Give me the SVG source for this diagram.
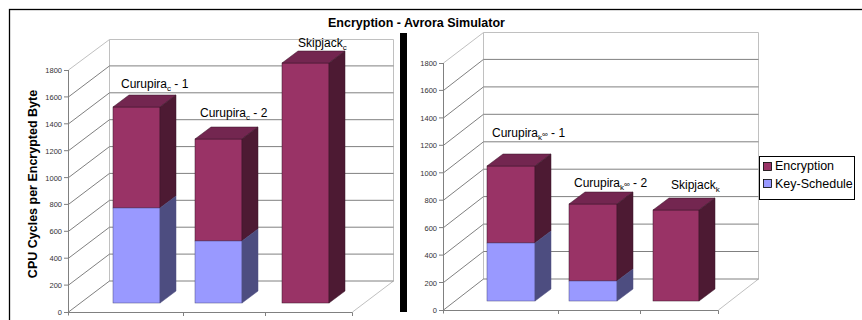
<svg xmlns="http://www.w3.org/2000/svg" width="862" height="320" viewBox="0 0 862 320">
<style>
text{font-family:"Liberation Sans",Arial,sans-serif;fill:#000}
.grid{stroke:#808080;stroke-width:1;fill:none}
.wall{stroke:#c0c0c0;stroke-width:1;fill:none}
.tk{font-size:7.5px;fill:#333;text-anchor:end;dominant-baseline:central}
.lbl{font-size:12px}
.sub{font-size:8px}
.ef{fill:#993366}.et{fill:#732650}.es{fill:#4d1a33}
.kf{fill:#9999ff}.ks{fill:#4d4d80}
.bar polygon,.bar rect{stroke:#3a1428;stroke-width:0.5}
.bar .kf,.bar .ks{stroke:#4d4d80}
</style>
<rect x="0" y="0" width="862" height="320" fill="#fff"/>
<rect id="frame" x="9.5" y="9.5" width="900" height="400" fill="none" stroke="#000" stroke-width="1.3"/>
<text id="title" x="328" y="27" font-size="12.5" font-weight="bold">Encryption - Avrora Simulator</text>
<text id="ytitle" transform="translate(37,184) rotate(-90)" text-anchor="middle" font-size="12.5" font-weight="bold">CPU Cycles per Encrypted Byte</text>
<rect id="divider" x="400" y="33" width="7" height="279" fill="#000"/>

<!-- LEFT CHART -->
<g id="left-chart">
 <g id="left-walls">
  <path class="wall" d="M109.5 39.5V281.5M393.5 39.5V281.5M109.5 39.5H393.5M68.5 70L109.5 39.5M352.5 312L393.5 281"/>
  <path class="grid" d="M109.5 65.9H393.5M109.5 92.8H393.5M109.5 119.7H393.5M109.5 146.6H393.5M109.5 173.4H393.5M109.5 200.3H393.5M109.5 227.2H393.5M109.5 254.1H393.5M109.5 281H393.5"/>
  <path class="grid" d="M68.5 96.9L109.5 65.9M68.5 123.8L109.5 92.8M68.5 150.7L109.5 119.7M68.5 177.6L109.5 146.6M68.5 204.4L109.5 173.4M68.5 231.3L109.5 200.3M68.5 258.2L109.5 227.2M68.5 285.1L109.5 254.1M68.5 312L109.5 281"/>
  <path class="grid" d="M68.5 70V315.5M68.5 312.5H352.5M64 70.5H68.5M64 96.9H68.5M64 123.8H68.5M64 150.7H68.5M64 177.6H68.5M64 204.4H68.5M64 231.3H68.5M64 258.2H68.5M64 285.1H68.5M64 312.5H68.5M183.5 312.5V316M265.5 312.5V316M352.5 312.5V316"/>
 </g>
 <g id="left-ticks">
  <text class="tk" x="62" y="70">1800</text><text class="tk" x="62" y="97">1600</text><text class="tk" x="62" y="124">1400</text><text class="tk" x="62" y="151">1200</text><text class="tk" x="62" y="178">1000</text><text class="tk" x="62" y="204">800</text><text class="tk" x="62" y="231">600</text><text class="tk" x="62" y="258">400</text><text class="tk" x="62" y="285">200</text><text class="tk" x="62" y="312">0</text>
 </g>
 <g id="bar-curupira-c-1" class="bar">
  <rect class="ef" x="113" y="107" width="47" height="101"/>
  <rect class="kf" x="113" y="208" width="47" height="95"/>
  <polygon class="et" points="113,107 160,107 176,95 129,95"/>
  <polygon class="es" points="160,107 176,95 176,196 160,208"/>
  <polygon class="ks" points="160,208 176,196 176,291 160,303"/>
 </g>
 <g id="bar-curupira-c-2" class="bar">
  <rect class="ef" x="195" y="139" width="47" height="102"/>
  <rect class="kf" x="195" y="241" width="47" height="62"/>
  <polygon class="et" points="195,139 242,139 258,127 211,127"/>
  <polygon class="es" points="242,139 258,127 258,229 242,241"/>
  <polygon class="ks" points="242,241 258,229 258,291 242,303"/>
 </g>
 <g id="bar-skipjack-c" class="bar">
  <rect class="ef" x="282" y="63" width="47" height="240"/>
  <polygon class="et" points="282,63 329,63 345,51 298,51"/>
  <polygon class="es" points="329,63 345,51 345,291 329,303"/>
 </g>
 <g id="left-labels">
  <text class="lbl" x="121" y="88">Curupira<tspan class="sub" dy="3">c</tspan><tspan dy="-3"> - 1</tspan></text>
  <text class="lbl" x="200" y="117">Curupira<tspan class="sub" dy="3">c</tspan><tspan dy="-3"> - 2</tspan></text>
  <text class="lbl" x="298" y="47">Skipjack<tspan class="sub" dy="3">c</tspan></text>
 </g>
</g>

<!-- RIGHT CHART -->
<g id="right-chart">
 <g id="right-walls">
  <path class="wall" d="M483.5 32.5V279.5M758.5 32.5V279.5M483.5 32.5H758.5M443.5 63L483.5 32.5M718.5 310L758.5 279"/>
  <path class="grid" d="M483.5 59.4H758.5M483.5 86.9H758.5M483.5 114.3H758.5M483.5 141.8H758.5M483.5 169.2H758.5M483.5 196.6H758.5M483.5 224.1H758.5M483.5 251.5H758.5M483.5 279H758.5"/>
  <path class="grid" d="M443.5 90.4L483.5 59.4M443.5 117.9L483.5 86.9M443.5 145.3L483.5 114.3M443.5 172.8L483.5 141.8M443.5 200.2L483.5 169.2M443.5 227.6L483.5 196.6M443.5 255.1L483.5 224.1M443.5 282.5L483.5 251.5M443.5 310L483.5 279"/>
  <path class="grid" d="M443.5 63V313.5M443.5 310.5H718.5M439 63.5H443.5M439 90.4H443.5M439 117.9H443.5M439 145.3H443.5M439 172.8H443.5M439 200.2H443.5M439 227.6H443.5M439 255.1H443.5M439 282.5H443.5M439 310.5H443.5M558.5 310.5V314M640.5 310.5V314M718.5 310.5V314"/>
 </g>
 <g id="right-ticks">
  <text class="tk" x="437" y="63">1800</text><text class="tk" x="437" y="90">1600</text><text class="tk" x="437" y="118">1400</text><text class="tk" x="437" y="145">1200</text><text class="tk" x="437" y="173">1000</text><text class="tk" x="437" y="200">800</text><text class="tk" x="437" y="228">600</text><text class="tk" x="437" y="255">400</text><text class="tk" x="437" y="283">200</text><text class="tk" x="437" y="310">0</text>
 </g>
 <g id="bar-curupira-k-1" class="bar">
  <rect class="ef" x="487" y="166" width="48" height="77"/>
  <rect class="kf" x="487" y="243" width="48" height="58"/>
  <polygon class="et" points="487,166 535,166 551,154 503,154"/>
  <polygon class="es" points="535,166 551,154 551,231 535,243"/>
  <polygon class="ks" points="535,243 551,231 551,289 535,301"/>
 </g>
 <g id="bar-curupira-k-2" class="bar">
  <rect class="ef" x="569" y="204" width="48" height="77"/>
  <rect class="kf" x="569" y="281" width="48" height="20"/>
  <polygon class="et" points="569,204 617,204 633,192 585,192"/>
  <polygon class="es" points="617,204 633,192 633,269 617,281"/>
  <polygon class="ks" points="617,281 633,269 633,289 617,301"/>
 </g>
 <g id="bar-skipjack-k" class="bar">
  <rect class="ef" x="653" y="210" width="46" height="91"/>
  <polygon class="et" points="653,210 699,210 715,198 669,198"/>
  <polygon class="es" points="699,210 715,198 715,289 699,301"/>
 </g>
 <g id="right-labels">
  <text class="lbl" x="492" y="137">Curupira<tspan class="sub" dy="3">k</tspan><tspan class="sub" font-size="7" dy="-3.5">∞</tspan><tspan dy="0.5"> - 1</tspan></text>
  <text class="lbl" x="574" y="187">Curupira<tspan class="sub" dy="3">k</tspan><tspan class="sub" font-size="7" dy="-3.5">∞</tspan><tspan dy="0.5"> - 2</tspan></text>
  <text class="lbl" x="671" y="189">Skipjack<tspan class="sub" dy="3">k</tspan></text>
 </g>
</g>

<g id="legend">
 <rect x="759.5" y="156.5" width="95" height="43" fill="#fff" stroke="#000" stroke-width="1"/>
 <rect class="ef" x="763.5" y="162.5" width="8" height="8" stroke="#000" stroke-width="0.8"/>
 <text x="775" y="170" font-size="12.5">Encryption</text>
 <rect class="kf" x="763.5" y="179.5" width="8" height="8" stroke="#000" stroke-width="0.8"/>
 <text x="775" y="187.5" font-size="12.5">Key-Schedule</text>
</g>
</svg>
